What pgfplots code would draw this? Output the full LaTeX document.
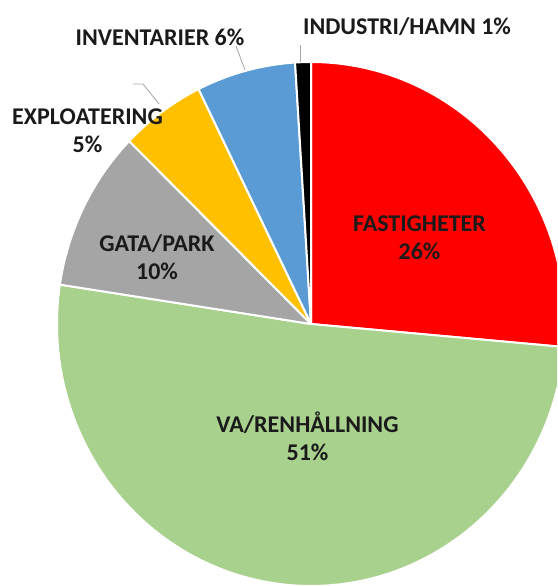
\documentclass[border=0pt]{standalone}
\usepackage{pgfplots}
\pgfplotsset{compat=1.18}
\usepackage{fontspec}
\setmainfont{Carlito}
\definecolor{cRed}{HTML}{FF0000}
\definecolor{cGreen}{HTML}{A9D18E}
\definecolor{cGray}{HTML}{A5A5A5}
\definecolor{cYellow}{HTML}{FFC000}
\definecolor{cBlue}{HTML}{5B9BD5}
\definecolor{cBlack}{HTML}{000000}
\definecolor{cText}{HTML}{1A1A1A}
\definecolor{cLead}{HTML}{A6A6A6}
% slice values (percent), clockwise from 12 o'clock
\def\vFast{26.4}
\def\vVA{51.0}
\def\vGata{9.9}
\def\vExpl{5.4}
\def\vInv{6.3}
\def\vInd{1.0}
\pgfmathsetmacro\aA{90}
\pgfmathsetmacro\aB{\aA-3.6*\vFast}
\pgfmathsetmacro\aC{\aB-3.6*\vVA}
\pgfmathsetmacro\aD{\aC-3.6*\vGata}
\pgfmathsetmacro\aE{\aD-3.6*\vExpl}
\pgfmathsetmacro\aF{\aE-3.6*\vInv}
\pgfmathsetmacro\aG{\aF-3.6*\vInd}
\begin{document}
\begin{tikzpicture}
\begin{axis}[
  x=1pt, y=1pt, scale only axis,
  xmin=0, xmax=557, ymin=0, ymax=586,
  hide axis, clip=true,
  every axis plot/.append style={draw=white, line width=2pt, line join=round},
]
\addplot[fill=cRed, domain=\aB:\aA, samples=80] ({311+254*cos(x)},{262+262*sin(x)}) -- (311,262) -- cycle;
\addplot[fill=cGreen, domain=\aC:\aB, samples=150] ({311+254*cos(x)},{262+262*sin(x)}) -- (311,262) -- cycle;
\addplot[fill=cGray, domain=\aD:\aC, samples=40] ({311+254*cos(x)},{262+262*sin(x)}) -- (311,262) -- cycle;
\addplot[fill=cYellow, domain=\aE:\aD, samples=30] ({311+254*cos(x)},{262+262*sin(x)}) -- (311,262) -- cycle;
\addplot[fill=cBlue, domain=\aF:\aE, samples=30] ({311+254*cos(x)},{262+262*sin(x)}) -- (311,262) -- cycle;
\addplot[fill=cBlack, domain=\aG:\aF, samples=10] ({311+254*cos(x)},{262+262*sin(x)}) -- (311,262) -- cycle;
% leader lines
\addplot[cLead, line width=0.8pt, draw=cLead] coordinates {(300,541) (300,524)};
\addplot[cLead, line width=0.8pt, draw=cLead] coordinates {(236,540) (245,516)};
\addplot[cLead, line width=0.8pt, draw=cLead] coordinates {(133,502) (143,502) (159,482)};
% labels
\begin{scope}[every node/.style={font=\bfseries\fontsize{24}{28}\selectfont, text=cText, align=center, inner sep=0pt}]
\node at (419.5,348.5) {FASTIGHETER\\26\%};
\node at (307.5,150) {VA/RENHÅLLNING\\51\%};
\node at (157,329) {GATA/PARK\\10\%};
\node at (87.5,455.5) {EXPLOATERING\\5\%};
\node at (160,549) {INVENTARIER 6\%};
\node at (407,559.5) {INDUSTRI/HAMN 1\%};
\end{scope}
\end{axis}
\useasboundingbox (current axis.south west) rectangle (current axis.north east);
\end{tikzpicture}
\end{document}
